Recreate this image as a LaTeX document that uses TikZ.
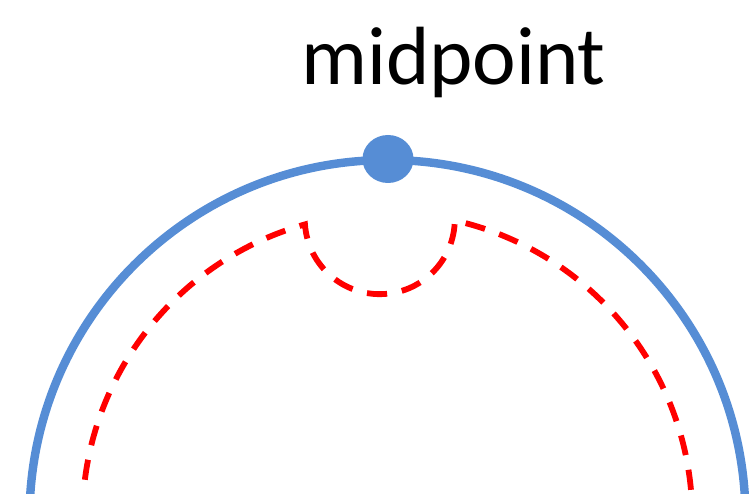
\documentclass[tikz,border=0pt]{standalone}
\usepackage{fontspec}
\setmainfont{Carlito}
\usetikzlibrary{shapes.geometric, calc}
\definecolor{ringblue}{RGB}{86, 141, 213}
\definecolor{pathred}{RGB}{255, 0, 0}

\begin{document}
\begin{tikzpicture}
    \useasboundingbox (0,0) rectangle (15.04,9.88);
    \clip (0,0) rectangle (15.04,9.88);

    % 外圈
    \coordinate (ctr) at (7.75,-0.48);
    \draw[ringblue, line width=4.8pt] (ctr) circle[radius=7.16];

    % 内圈虚线，带凹口
    \draw[pathred, line width=3.3pt, dash pattern=on 11.5pt off 8.5pt]
        ($(ctr)+(186:6.1)$) arc[start angle=186, end angle=105.7, radius=6.1]
        arc[start angle=184, end angle=359, radius=1.5]
        arc[start angle=77.2, end angle=-6, radius=6.1];

    % 中点
    \node[ellipse, fill=ringblue, minimum width=1.02cm, minimum height=0.96cm, inner sep=0pt] (midpt) at (7.76,6.7) {};
    \node[anchor=base, font=\fontsize{47}{50}\selectfont, inner sep=0pt] (midlabel) at (9.07,8.18) {midpoint};
\end{tikzpicture}
\end{document}
